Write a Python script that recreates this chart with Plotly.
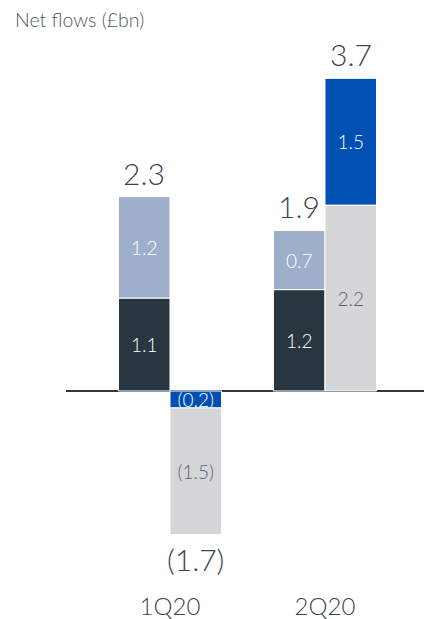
import plotly.graph_objects as go

# Quarterly net flows (£bn), split into stacked components
quarters = ["1Q20", "2Q20"]
core_flows = [1.1, 1.2]        # dark segment, left bar
other_flows = [1.2, 0.7]       # light blue segment, left bar
blue_flows = [-0.2, 1.5]       # blue segment, right bar
grey_flows = [-1.5, 2.2]       # grey segment, right bar

DARK = "#283641"
LIGHT_BLUE = "#9eafcc"
BLUE = "#0050b3"
GREY = "#d5d6d8"
TEXT = "#3a4550"
FONT = "Lato"


def fmt(v):
    return f"({abs(v):.1f})" if v < 0 else f"{v:.1f}"


def only(values, keep):
    return [v if k else None for v, k in zip(values, keep)]


# In the right bar the segment nearest the axis differs by quarter:
# the blue part sits next to zero when flows are negative, the grey part when positive.
blue_first = [v < 0 for v in blue_flows]
grey_first = [not b for b in blue_first]

segments = [
    ("left", core_flows, DARK, "white"),
    ("left", other_flows, LIGHT_BLUE, "white"),
    ("right", only(blue_flows, blue_first), BLUE, "white"),
    ("right", grey_flows, GREY, "#5b6570"),
    ("right", only(blue_flows, grey_first), BLUE, "white"),
]

fig = go.Figure()
for group, vals, color, tcolor in segments:
    fig.add_trace(go.Bar(
        x=quarters,
        y=vals,
        offsetgroup=group,
        marker=dict(color=color, line=dict(color="white", width=1)),
        text=[fmt(v) if v is not None else "" for v in vals],
        textposition="inside",
        insidetextanchor="middle",
        textfont=dict(family=FONT, size=19, color=tcolor, weight=300),
        hoverinfo="skip",
        showlegend=False,
    ))

# Totals above / below each bar
left_totals = [a + b for a, b in zip(core_flows, other_flows)]
right_totals = [a + b for a, b in zip(blue_flows, grey_flows)]
for i, q in enumerate(quarters):
    for tot, shift in ((left_totals[i], -0.1675), (right_totals[i], 0.1675)):
        tot = round(tot, 1)
        fig.add_annotation(
            x=i + shift, y=tot, xref="x", yref="y",
            text=fmt(tot), showarrow=False,
            yanchor="bottom" if tot >= 0 else "top",
            yshift=4 if tot >= 0 else -4,
            font=dict(family=FONT, size=30, color=TEXT, weight=300),
        )

fig.update_layout(
    width=424, height=619,
    margin=dict(l=66, r=0, t=10, b=29),
    paper_bgcolor="white", plot_bgcolor="white",
    barmode="relative",
    bargap=0.335, bargroupgap=0,
    uniformtext=dict(minsize=19, mode="show"),
    title=dict(
        text="Net flows (£bn)", xref="container", yref="container",
        x=15 / 424, xanchor="left", y=1 - 20 / 619, yanchor="middle",
        font=dict(family=FONT, size=19.5, color="#4c5761", weight=300),
    ),
    xaxis=dict(
        type="category", range=[-0.671, 1.639],
        showgrid=False, showline=False, ticks="",
        tickfont=dict(family=FONT, size=24, color=TEXT, weight=300),
    ),
    yaxis=dict(
        range=[-2.355, 4.509], showgrid=False, showticklabels=False,
        zeroline=True, zerolinecolor="#2d3a44", zerolinewidth=2,
        showline=False, ticks="",
    ),
)

fig.write_html("out.html")
